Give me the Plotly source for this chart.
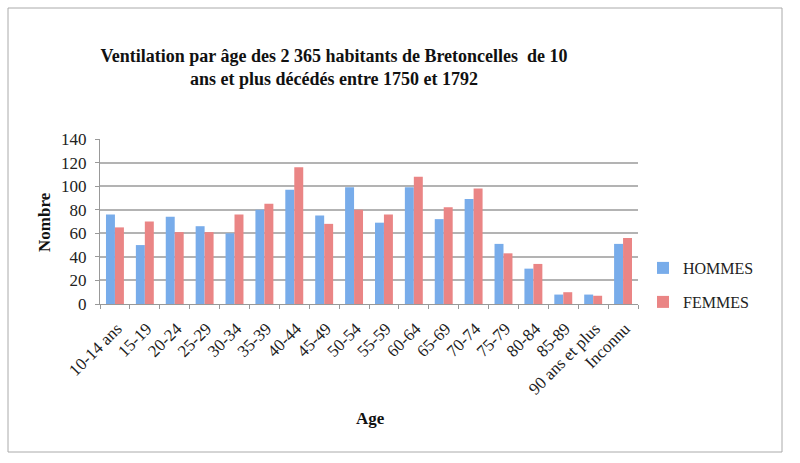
import plotly.graph_objects as go

categories = ["10-14 ans", "15-19", "20-24", "25-29", "30-34", "35-39", "40-44", "45-49",
              "50-54", "55-59", "60-64", "65-69", "70-74", "75-79", "80-84", "85-89",
              "90 ans et plus", "Inconnu"]
hommes = [76, 50, 74, 66, 60, 80, 97, 75, 99, 69, 99, 72, 89, 51, 30, 8, 8, 51]
femmes = [65, 70, 61, 61, 76, 85, 116, 68, 80, 76, 108, 82, 98, 43, 34, 10, 7, 56]
y_ticks = [0, 20, 40, 60, 80, 100, 120, 140]

FONT = "Liberation Serif"
W, H = 800, 463
L, R, T, B = 100, 638, 139, 304

def px(x):
    return (x - L) / (R - L)

def py(y):
    return (B - y) / (B - T)

fig = go.Figure()
fig.add_trace(go.Bar(x=categories, y=hommes, name="HOMMES",
                     marker=dict(color="#78acea", line=dict(width=0)), legend="legend"))
fig.add_trace(go.Bar(x=categories, y=femmes, name="FEMMES",
                     marker=dict(color="#ea8585", line=dict(width=0)), legend="legend2"))

fig.update_layout(
    width=W, height=H,
    margin=dict(l=L, r=W - R, t=T, b=H - B),
    paper_bgcolor="white", plot_bgcolor="white",
    barmode="group", bargap=0.4, bargroupgap=0,
    font=dict(family=FONT, color="#222222", size=13),
    title=dict(
        text="<b>Ventilation par âge des 2 365 habitants de Bretoncelles  de 10<br>ans et plus décédés entre 1750 et 1792</b>",
        x=px(334), xanchor="center", xref="paper",
        y=1 - 62 / H, yanchor="middle", yref="container",
        font=dict(family=FONT, size=18, color="#111111"),
    ),
    xaxis=dict(
        tickangle=-45, tickson="boundaries", ticks="outside", ticklen=4,
        tickcolor="#999999", showline=True, linecolor="#999999", linewidth=1,
        showgrid=False, tickfont=dict(family=FONT, size=17, color="#222222"),
        ticklabelshift=2, ticklabelstandoff=7,
    ),
    yaxis=dict(
        range=[0, 140], tickvals=y_ticks, ticks="outside", ticklen=4,
        tickcolor="#999999", showline=True, linecolor="#999999", linewidth=1,
        showgrid=True, gridcolor="#b3b3b3", gridwidth=2, zeroline=False,
        tickfont=dict(family=FONT, size=17, color="#222222"),
        ticklabelstandoff=5,
    ),
    legend=dict(x=px(643), y=py(268), xanchor="left", yanchor="middle",
                font=dict(family=FONT, size=16, color="#222222"),
                bgcolor="rgba(0,0,0,0)", itemwidth=30),
    legend2=dict(x=px(643), y=py(302), xanchor="left", yanchor="middle",
                 font=dict(family=FONT, size=16, color="#222222"),
                 bgcolor="rgba(0,0,0,0)", itemwidth=30),
    annotations=[
        dict(text="<b>Nombre</b>", x=px(44), y=py(222), xref="paper", yref="paper",
             xanchor="center", yanchor="middle",
             showarrow=False, textangle=-90, font=dict(family=FONT, size=17, color="#111111")),
        dict(text="<b>Age</b>", x=px(370), y=py(418), xref="paper", yref="paper",
             xanchor="center", yanchor="middle",
             showarrow=False, font=dict(family=FONT, size=17, color="#111111")),
    ],
    shapes=[
        dict(type="rect", xref="paper", yref="paper",
             x0=px(8), x1=px(782), y0=py(452), y1=py(8),
             line=dict(color="#aaaaaa", width=1), fillcolor="rgba(0,0,0,0)", layer="below"),
    ],
    showlegend=True,
)

fig.write_html("out.html")
